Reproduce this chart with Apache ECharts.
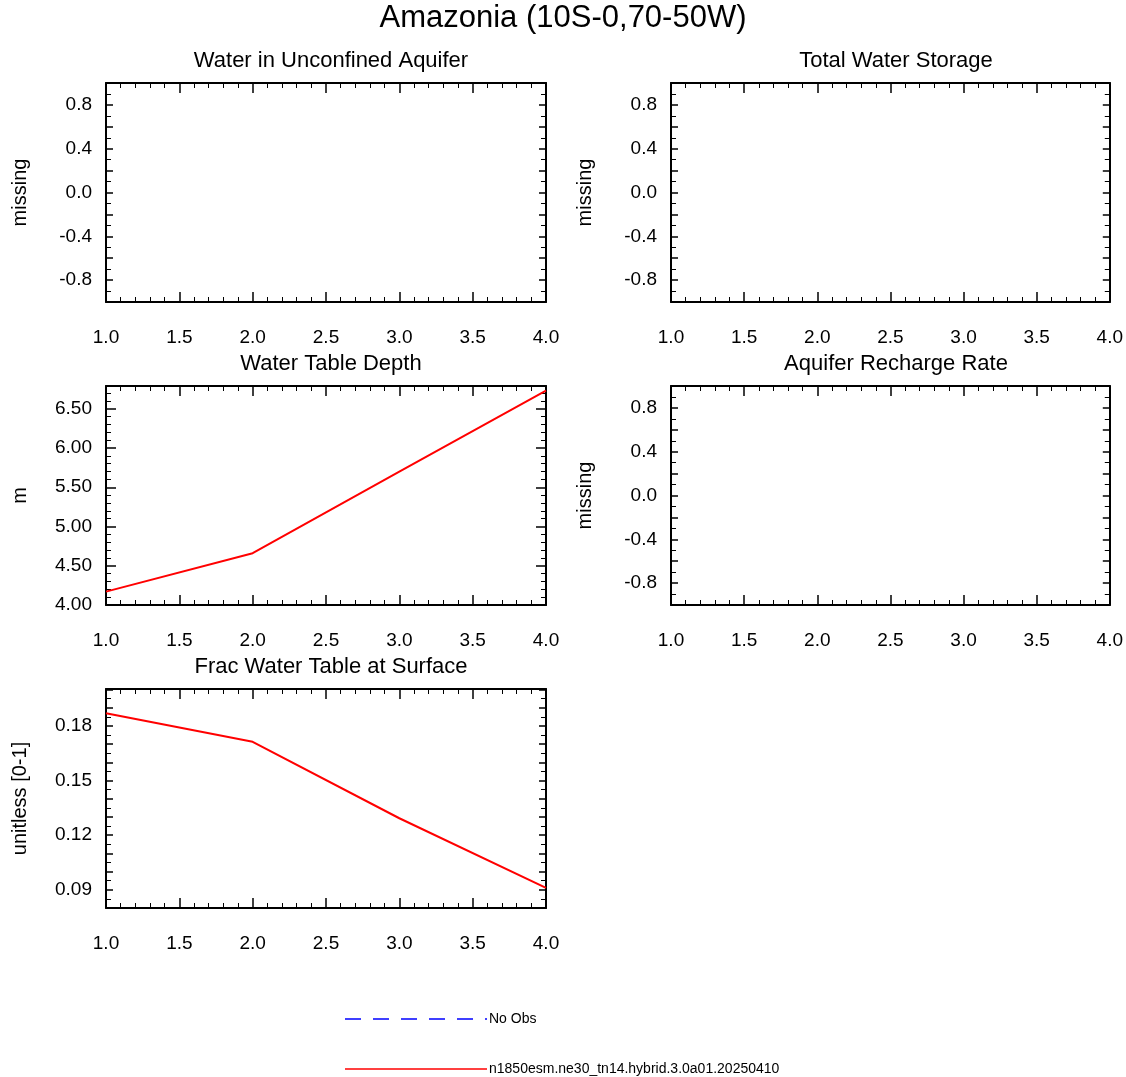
<!DOCTYPE html>
<html><head><meta charset="utf-8">
<script src="https://cdn.jsdelivr.net/npm/echarts@6/dist/echarts.min.js"></script>
<style>html,body{margin:0;background:#fff}#c{width:1126px;height:1077px}</style>
</head><body><div id="c"></div>
<script>
// data
const years = [1, 2, 3, 4];
const wtdValues = [4.17, 4.66, 5.70, 6.73];
const fracValues = [0.187, 0.1713, 0.1293, 0.0911];
const panelTitles = ["Water in Unconfined Aquifer", "Total Water Storage",
  "Water Table Depth", "Aquifer Recharge Rate", "Frac Water Table at Surface"];
const panelUnits = ["missing", "missing", "m", "missing", "unitless [0-1]"];
const caseName = "n1850esm.ne30_tn14.hybrid.3.0a01.20250410";

const chart = echarts.init(document.getElementById("c"));
const F = "Liberation Sans, Arial, sans-serif";
const boxes = [[106, 83], [671, 83], [106, 386], [671, 386], [106, 689]];
const W = 440, H = 219;

const grids = [], xAxis = [], yAxis = [], series = [], titles = [];
const axLine = { show: true, onZero: false, lineStyle: { color: "#000", width: 2 } };
const tick = (len) => ({ show: true, inside: true, length: len, lineStyle: { color: "#000", width: 1.5 } });

const yConf = [
  { min: -1, max: 1, interval: 0.2, fmt: (v) => { const t = Math.round(v * 10); return (t % 4 === 0 && Math.abs(t) < 10) ? (t === 0 ? "0.0" : (t / 10).toFixed(1)) : ""; } },
  null,
  { min: 4, max: 6.79, interval: 0.5, fmt: (v) => v.toFixed(2) },
  null,
  { min: 0.08, max: 0.2003, interval: 0.01, fmt: (v) => { const t = Math.round(v * 100); return (t % 3 === 0) ? (t / 100).toFixed(2) : ""; } },
];
yConf[1] = yConf[0]; yConf[3] = yConf[0];

boxes.forEach(([l, t], i) => {
  grids.push({ left: l, top: t, width: W, height: H });
  const xb = { gridIndex: i, type: "value", min: 1, max: 4, interval: 0.5, axisLine: axLine,
    axisTick: tick(10), minorTick: { show: true, splitNumber: 5, length: 5, lineStyle: { color: "#000" } },
    splitLine: { show: false } };
  xAxis.push(Object.assign({}, xb, { position: "bottom",
    axisLabel: { color: "#000", fontSize: 19, fontFamily: F, margin: 26, formatter: (v) => v.toFixed(1) } }));
  xAxis.push(Object.assign({}, xb, { position: "top", axisLabel: { show: false } }));
  const c = yConf[i];
  const yb = { gridIndex: i, type: "value", min: c.min, max: c.max, interval: c.interval, axisLine: axLine,
    axisTick: tick(i === 2 ? 10 : 7), minorTick: { show: true, splitNumber: i === 2 ? 5 : 2, length: 5, lineStyle: { color: "#000" } },
    splitLine: { show: false } };
  yAxis.push(Object.assign({}, yb, { position: "left", name: panelUnits[i], nameLocation: "middle", nameGap: 76,
    nameTextStyle: { color: "#000", fontSize: 20, fontFamily: F },
    axisLabel: { color: "#000", fontSize: 19, fontFamily: F, margin: 14, formatter: c.fmt, showMaxLabel: false } }));
  yAxis.push(Object.assign({}, yb, { position: "right", axisLabel: { show: false } }));
  titles.push({ text: panelTitles[i], left: l + W / 2, top: t - 38, textAlign: "center",
    textStyle: { fontSize: 22, fontWeight: "normal", fontFamily: F, color: "#000" } });
});

series.push({ type: "line", xAxisIndex: 4, yAxisIndex: 4, data: years.map((x, k) => [x, wtdValues[k]]),
  symbol: "none", lineStyle: { color: "red", width: 2 } });
series.push({ type: "line", xAxisIndex: 8, yAxisIndex: 8, data: years.map((x, k) => [x, fracValues[k]]),
  symbol: "none", lineStyle: { color: "red", width: 2 } });

titles.unshift({ text: "Amazonia (10S-0,70-50W)", left: "center", top: -2,
  textStyle: { fontSize: 31, fontWeight: "normal", fontFamily: F, color: "#000" } });

chart.setOption({
  animation: false,
  title: titles, grid: grids, xAxis: xAxis, yAxis: yAxis, series: series,
  graphic: [
    { type: "line", shape: { x1: 345, y1: 1019, x2: 487, y2: 1019 }, style: { stroke: "#0000ff", lineWidth: 1.5, lineDash: [16, 12] } },
    { type: "text", left: 489, top: 1012, style: { text: "No Obs", fontSize: 14, fontFamily: F, fill: "#000" } },
    { type: "line", shape: { x1: 345, y1: 1069, x2: 487, y2: 1069 }, style: { stroke: "red", lineWidth: 1.5 } },
    { type: "text", left: 489, top: 1062, style: { text: caseName, fontSize: 14, fontFamily: F, fill: "#000" } },
  ],
});
</script></body></html>
